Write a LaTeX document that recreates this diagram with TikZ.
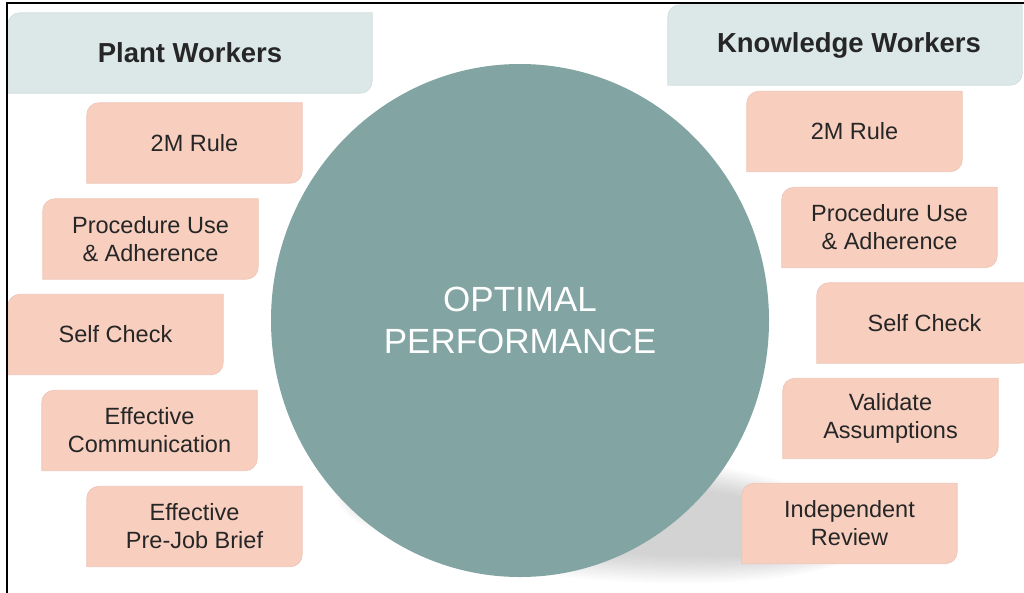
\documentclass[tikz,border=0pt]{standalone}
\usepackage{fontspec}
\setmainfont{Liberation Sans}
\usetikzlibrary{backgrounds,shapes.geometric}
\definecolor{circfill}{HTML}{82A4A3}
\definecolor{headfill}{HTML}{DCE8E8}
\definecolor{salmonfill}{HTML}{F8CFBF}
\definecolor{salmonedge}{HTML}{EDC5B6}
\definecolor{headedge}{HTML}{D2DEDE}
\definecolor{txt}{HTML}{262626}
\newcommand\tlbrfill[3]{%
  \path[fill=#2,draw=#3,line width=0.7pt] (#1.west) [rounded corners=12pt] -- (#1.north west) -- (#1.north)
    [sharp corners] -- (#1.north east) -- (#1.east)
    [rounded corners=12pt] -- (#1.south east) -- (#1.south)
    [sharp corners] -- (#1.south west) -- cycle;}
\begin{document}
\begin{tikzpicture}[x=1pt,y=-1pt,
  salmonbox/.style={minimum width=215pt, minimum height=80pt, inner sep=0pt, align=center,
    font=\fontsize{23.5}{28}\selectfont, text=txt},
  headbox/.style={minimum height=80pt, inner sep=0pt, align=center,
    font=\bfseries\fontsize{27.5}{32}\selectfont, text=txt}]
\useasboundingbox (0,0) rectangle (1024,592);
% headers
\node[headbox, minimum width=364pt] (hplant) at (190,53) {Plant Workers};
\node[headbox, minimum width=354pt] (hknow) at (845,45) {\hspace*{8pt}Knowledge Workers};
% left column
\node[salmonbox] (l1) at (194.5,143) {2M Rule};
\node[salmonbox] (l2) at (150.5,239) {Procedure Use\\\& Adherence};
\node[salmonbox] (l3) at (115.5,334.5) {Self Check};
\node[salmonbox] (l4) at (149.5,430.5) {Effective\\Communication};
\node[salmonbox] (l5) at (194.5,526.5) {Effective\\Pre-Job Brief};
% right column
\node[salmonbox] (r1) at (854.5,131.5) {2M Rule};
\node[salmonbox] (r2) at (889.5,227.5) {Procedure Use\\\& Adherence};
\node[salmonbox] (r3) at (924.5,323) {Self Check};
\node[salmonbox] (r4) at (890.5,418.5) {Validate\\Assumptions};
\node[salmonbox] (r5) at (849.5,523.5) {Independent\\Review};
% centre circle
\node[ellipse, fill=circfill, minimum width=498pt, minimum height=513pt, inner sep=0pt,
  align=center, text=white, font=\fontsize{35}{42}\selectfont] (core) at (520,320.5)
  {OPTIMAL\\PERFORMANCE};
\begin{scope}[on background layer]
  \foreach \i in {0,...,11}{
    \fill[black, opacity=0.016, rotate around={-4.5:(604,516)}]
      (604,516) ellipse [x radius={268-2.5*\i}, y radius={64-2.5*\i}];
  }
  \tlbrfill{hplant}{headfill}{headedge}
  \tlbrfill{hknow}{headfill}{headedge}
  \foreach \n in {l1,l2,l3,l4,l5,r1,r2,r3,r4,r5}{\tlbrfill{\n}{salmonfill}{salmonedge}}
\end{scope}
% frame
\draw[line width=2.4pt, line cap=rect] (7,592) -- (7,3) -- (1024,3);
\end{tikzpicture}
\end{document}
